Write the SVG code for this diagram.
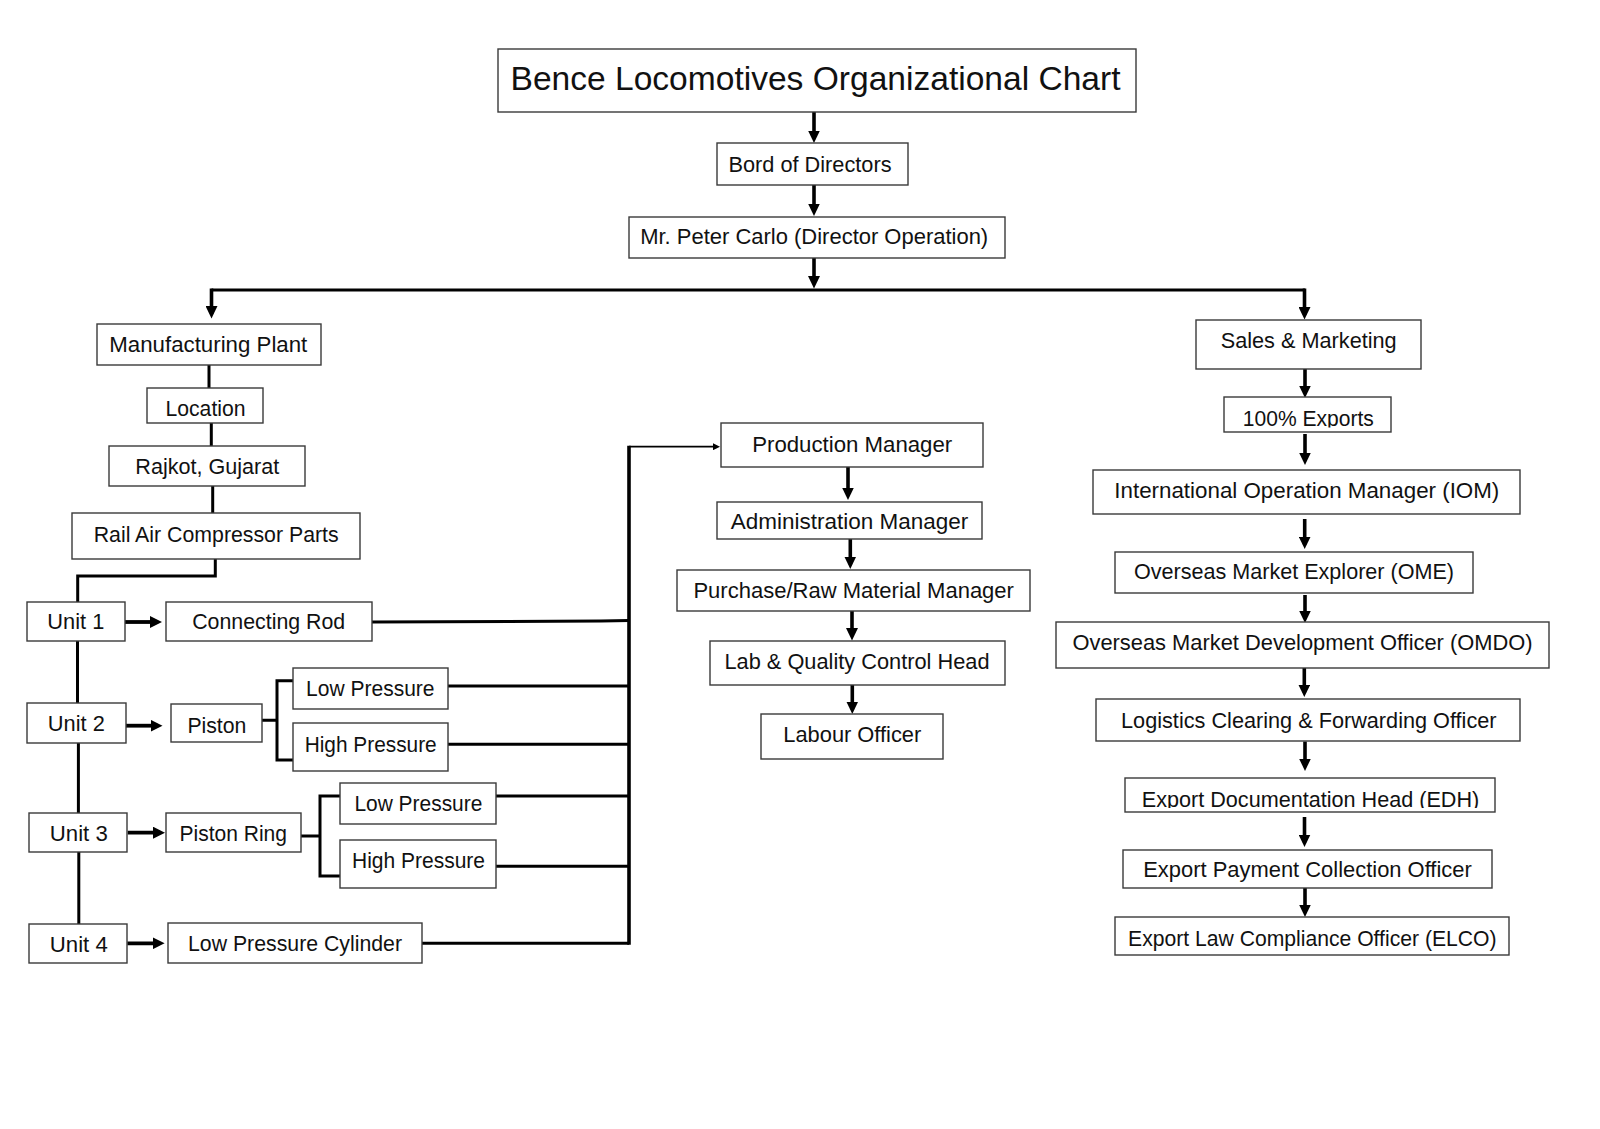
<svg xmlns="http://www.w3.org/2000/svg" width="1600" height="1129" viewBox="0 0 1600 1129">
<style>
.box{fill:#fff;stroke:#3a3a3a;stroke-width:1.4}
.t{font-family:"Liberation Sans",Arial,sans-serif;font-size:22px;fill:#111;text-anchor:middle}
.title{font-size:33.5px}
.c{fill:none;stroke:#000;stroke-width:3}
.ca{fill:none;stroke:#000;stroke-width:3.6}
.ct{fill:none;stroke:#000;stroke-width:1.8}
.cu{fill:none;stroke:#000;stroke-width:3.8}
</style>
<defs>
<marker id="a" viewBox="-8 -6 12.5 12" markerWidth="12.5" markerHeight="12" refX="0" refY="0" orient="auto" markerUnits="userSpaceOnUse">
<path d="M-8,-6 L4.5,0 L-8,6 z" fill="#000"/>
</marker>
<marker id="au" viewBox="-7 -6 12 12" markerWidth="12" markerHeight="12" refX="0" refY="0" orient="auto" markerUnits="userSpaceOnUse">
<path d="M-7,-6 L5,0 L-7,6 z" fill="#000"/>
</marker>
<marker id="as" viewBox="-4 -3.5 7 7" markerWidth="7" markerHeight="7" refX="0" refY="0" orient="auto" markerUnits="userSpaceOnUse">
<path d="M-4,-3.5 L3,0 L-4,3.5 z" fill="#000"/>
</marker>
<clipPath id="clipExp"><rect x="1225" y="398" width="165" height="29.5"/></clipPath>
<clipPath id="clipEdh"><rect x="1126" y="779" width="368" height="29"/></clipPath>
</defs>
<rect width="1600" height="1129" fill="#fff"/>

<g id="connectors">
<path class="ca" d="M814,112 V138.5" marker-end="url(#a)"/>
<path class="ca" d="M814,185 V211.5" marker-end="url(#a)"/>
<path class="ca" d="M814,258 V284" marker-end="url(#a)"/>
<path class="c" d="M211.5,290 H1305"/>
<path class="ca" d="M211.5,288.5 V314" marker-end="url(#a)"/>
<path class="ca" d="M1304.5,288.5 V315" marker-end="url(#a)"/>
<path class="c" d="M209,365 V388"/>
<path class="c" d="M211.3,423 V446"/>
<path class="c" d="M212.7,486 V513"/>
<path class="c" d="M215.3,559 V576 H77.7 V602"/>
<path class="c" d="M77.5,641 V703"/>
<path class="c" d="M78.4,743 V813"/>
<path class="c" d="M78.8,852 V924"/>
<path class="cu" d="M125,622 H157" marker-end="url(#au)"/>
<path class="cu" d="M126,725.7 H157.5" marker-end="url(#au)"/>
<path class="cu" d="M127.7,832.7 H160" marker-end="url(#au)"/>
<path class="cu" d="M127.3,943.3 H159.6" marker-end="url(#au)"/>
<path class="c" d="M262,720.3 H277 M293,680.7 H277 V760 H293"/>
<path class="c" d="M301,836 H320 M340,796 H320 V876 H340"/>
<path class="c" d="M372,622 L601,621 L629,620.5"/>
<path class="c" d="M448,686 H629"/>
<path class="c" d="M448,744.3 H629"/>
<path class="c" d="M496,796 H629"/>
<path class="c" d="M496,866.3 H629"/>
<path class="c" d="M422,943.3 H629"/>
<path class="ca" d="M629,445.8 V944.8"/>
<path class="ct" d="M629,446.7 H717" marker-end="url(#as)"/>
<path class="ca" d="M848,467 V495.5" marker-end="url(#a)"/>
<path class="ca" d="M850.3,539 V564.5" marker-end="url(#a)"/>
<path class="ca" d="M852,611 V636" marker-end="url(#a)"/>
<path class="ca" d="M852.3,685 V709.5" marker-end="url(#a)"/>
<path class="ca" d="M1305,369 V393.5" marker-end="url(#a)"/>
<path class="ca" d="M1305,434 V460.5" marker-end="url(#a)"/>
<path class="ca" d="M1304.7,519 V544.5" marker-end="url(#a)"/>
<path class="ca" d="M1305,595 V618.5" marker-end="url(#a)"/>
<path class="ca" d="M1304.3,668 V692.5" marker-end="url(#a)"/>
<path class="ca" d="M1305,741.5 V766.5" marker-end="url(#a)"/>
<path class="ca" d="M1304.5,817 V842.5" marker-end="url(#a)"/>
<path class="ca" d="M1305,888 V912.5" marker-end="url(#a)"/>
</g>

<g id="title"><rect class="box" x="498" y="49" width="638" height="63"/><text class="t title" x="815.5" y="90" textLength="610" lengthAdjust="spacingAndGlyphs">Bence Locomotives Organizational Chart</text></g>
<g id="bord"><rect class="box" x="717" y="143" width="191" height="42"/><text class="t" x="810" y="171.7" textLength="163" lengthAdjust="spacingAndGlyphs">Bord of Directors</text></g>
<g id="peter"><rect class="box" x="629" y="217" width="376" height="41"/><text class="t" x="814.2" y="244" textLength="348" lengthAdjust="spacingAndGlyphs">Mr. Peter Carlo (Director Operation)</text></g>

<g id="mfg"><rect class="box" x="97" y="324" width="224" height="41"/><text class="t" x="208.3" y="352.3" textLength="198" lengthAdjust="spacingAndGlyphs">Manufacturing Plant</text></g>
<g id="location"><rect class="box" x="147" y="388" width="116" height="35"/><text class="t" x="205.5" y="416" textLength="80" lengthAdjust="spacingAndGlyphs">Location</text></g>
<g id="rajkot"><rect class="box" x="109" y="446" width="196" height="40"/><text class="t" x="207.3" y="474" textLength="144" lengthAdjust="spacingAndGlyphs">Rajkot, Gujarat</text></g>
<g id="rail"><rect class="box" x="72" y="513" width="288" height="46"/><text class="t" x="216.2" y="541.7" textLength="245" lengthAdjust="spacingAndGlyphs">Rail Air Compressor Parts</text></g>
<g id="unit1"><rect class="box" x="27" y="602" width="98" height="39"/><text class="t" x="75.8" y="629.3" textLength="57" lengthAdjust="spacingAndGlyphs">Unit 1</text></g>
<g id="connrod"><rect class="box" x="166" y="602" width="206" height="39"/><text class="t" x="268.7" y="629.3" textLength="153" lengthAdjust="spacingAndGlyphs">Connecting Rod</text></g>
<g id="unit2"><rect class="box" x="27" y="703" width="99" height="40"/><text class="t" x="76.3" y="730.7" textLength="57" lengthAdjust="spacingAndGlyphs">Unit 2</text></g>
<g id="piston"><rect class="box" x="171" y="704" width="91" height="38"/><text class="t" x="216.9" y="732.7" textLength="59" lengthAdjust="spacingAndGlyphs">Piston</text></g>
<g id="lp1"><rect class="box" x="293" y="668" width="155" height="41"/><text class="t" x="370.3" y="696" textLength="128.5" lengthAdjust="spacingAndGlyphs">Low Pressure</text></g>
<g id="hp1"><rect class="box" x="293" y="723" width="155" height="48"/><text class="t" x="370.7" y="751.7" textLength="132" lengthAdjust="spacingAndGlyphs">High Pressure</text></g>
<g id="unit3"><rect class="box" x="29" y="813" width="98" height="39"/><text class="t" x="78.8" y="841" textLength="58" lengthAdjust="spacingAndGlyphs">Unit 3</text></g>
<g id="pistonring"><rect class="box" x="166" y="813" width="135" height="39"/><text class="t" x="233.2" y="841" textLength="107.5" lengthAdjust="spacingAndGlyphs">Piston Ring</text></g>
<g id="lp2"><rect class="box" x="340" y="783" width="156" height="41"/><text class="t" x="418.4" y="811" textLength="128" lengthAdjust="spacingAndGlyphs">Low Pressure</text></g>
<g id="hp2"><rect class="box" x="340" y="840" width="156" height="48"/><text class="t" x="418.5" y="868.3" textLength="133" lengthAdjust="spacingAndGlyphs">High Pressure</text></g>
<g id="unit4"><rect class="box" x="29" y="924" width="98" height="39"/><text class="t" x="78.8" y="951.7" textLength="58" lengthAdjust="spacingAndGlyphs">Unit 4</text></g>
<g id="lpc"><rect class="box" x="168" y="923" width="254" height="40"/><text class="t" x="295" y="951" textLength="214" lengthAdjust="spacingAndGlyphs">Low Pressure Cylinder</text></g>

<g id="prod"><rect class="box" x="721" y="423" width="262" height="44"/><text class="t" x="852.2" y="451.7" textLength="200" lengthAdjust="spacingAndGlyphs">Production Manager</text></g>
<g id="admin"><rect class="box" x="717" y="502" width="265" height="37"/><text class="t" x="849.5" y="529.3" textLength="237.5" lengthAdjust="spacingAndGlyphs">Administration Manager</text></g>
<g id="purchase"><rect class="box" x="677" y="570" width="353" height="41"/><text class="t" x="853.7" y="597.7" textLength="320.5" lengthAdjust="spacingAndGlyphs">Purchase/Raw Material Manager</text></g>
<g id="lab"><rect class="box" x="710" y="641" width="295" height="44"/><text class="t" x="857" y="669" textLength="265" lengthAdjust="spacingAndGlyphs">Lab &amp; Quality Control Head</text></g>
<g id="labour"><rect class="box" x="761" y="714" width="182" height="45"/><text class="t" x="852.3" y="742.3" textLength="138" lengthAdjust="spacingAndGlyphs">Labour Officer</text></g>

<g id="sales"><rect class="box" x="1196" y="320" width="225" height="49"/><text class="t" x="1308.7" y="348.3" textLength="176" lengthAdjust="spacingAndGlyphs">Sales &amp; Marketing</text></g>
<g id="exports"><rect class="box" x="1224" y="397" width="167" height="35"/><text class="t" x="1308.3" y="425.8" clip-path="url(#clipExp)" textLength="131" lengthAdjust="spacingAndGlyphs">100% Exports</text></g>
<g id="iom"><rect class="box" x="1093" y="470" width="427" height="44"/><text class="t" x="1306.8" y="498.3" textLength="385" lengthAdjust="spacingAndGlyphs">International Operation Manager (IOM)</text></g>
<g id="ome"><rect class="box" x="1115" y="552" width="358" height="41"/><text class="t" x="1294" y="579" textLength="320" lengthAdjust="spacingAndGlyphs">Overseas Market Explorer (OME)</text></g>
<g id="omdo"><rect class="box" x="1056" y="622" width="493" height="46"/><text class="t" x="1302.5" y="650" textLength="460" lengthAdjust="spacingAndGlyphs">Overseas Market Development Officer (OMDO)</text></g>
<g id="logistics"><rect class="box" x="1096" y="699" width="424" height="42"/><text class="t" x="1308.8" y="727.7" textLength="375.5" lengthAdjust="spacingAndGlyphs">Logistics Clearing &amp; Forwarding Officer</text></g>
<g id="edh"><rect class="box" x="1125" y="778" width="370" height="34"/><text class="t" x="1310.5" y="806.8" clip-path="url(#clipEdh)" textLength="337.5" lengthAdjust="spacingAndGlyphs">Export Documentation Head (EDH)</text></g>
<g id="payment"><rect class="box" x="1123" y="850" width="369" height="38"/><text class="t" x="1307.5" y="877.3" textLength="328.5" lengthAdjust="spacingAndGlyphs">Export Payment Collection Officer</text></g>
<g id="elco"><rect class="box" x="1115" y="917" width="394" height="38"/><text class="t" x="1312.3" y="945.7" textLength="368.5" lengthAdjust="spacingAndGlyphs">Export Law Compliance Officer (ELCO)</text></g>
</svg>
